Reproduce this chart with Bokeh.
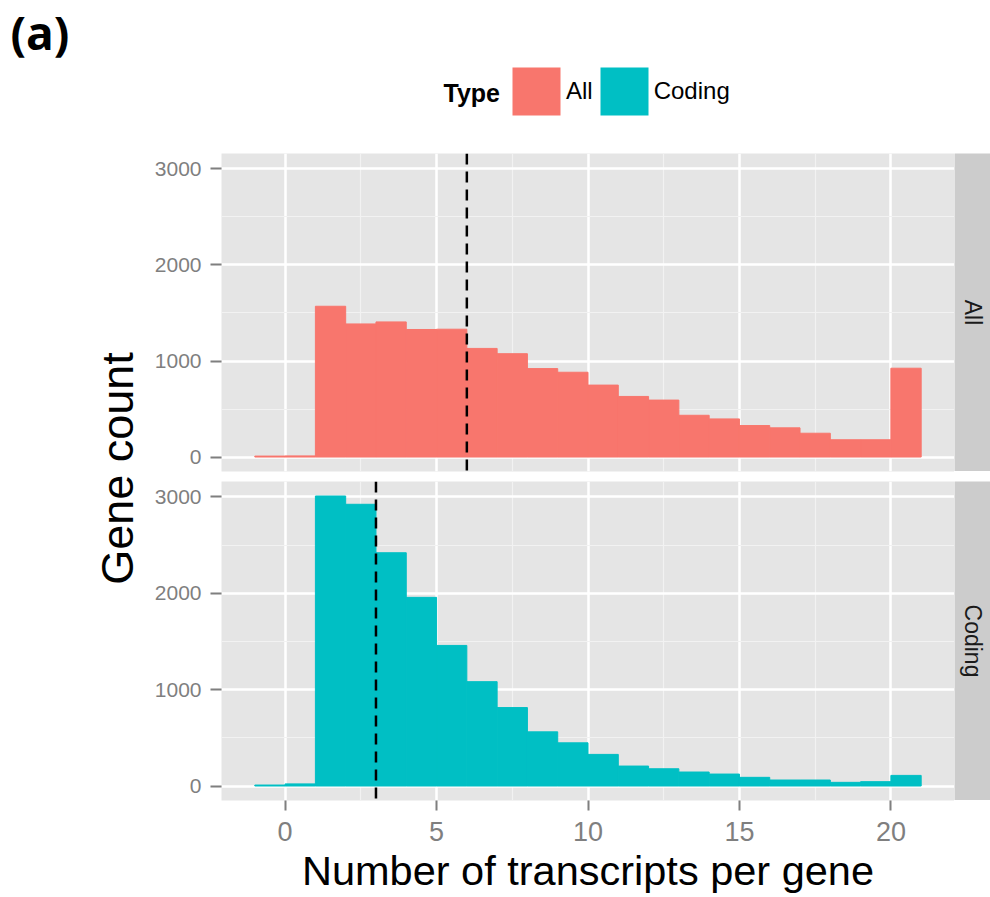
import math

from bokeh.core.properties import value
from bokeh.embed import file_html
from bokeh.layouts import column, row
from bokeh.models import Legend, LegendItem, Range1d, SingleIntervalTicker, Spacer, Span
from bokeh.plotting import figure
from bokeh.resources import INLINE

# ---- data -------------------------------------------------------------
types = ["All", "Coding"]
type_colors = ["#F8766D", "#00BFC4"]

# histogram bins (left edges, width 1)
bin_start = [-1, 0, 1, 2, 3, 4, 5, 6, 7, 8, 9, 10,
             11, 12, 13, 14, 15, 16, 17, 18, 19, 20]
bin_width = 1

all_counts = [10, 12, 1570, 1386, 1407, 1328, 1331, 1131, 1076, 921, 883,
              749, 631, 593, 435, 397, 328, 304, 248, 180, 180, 925]
coding_counts = [10, 22, 3010, 2924, 2421, 1958, 1459, 1083, 814, 562, 448,
                 328, 207, 179, 145, 124, 90, 62, 62, 38, 45, 110]

# median number of transcripts per gene, per panel
medians = [6, 3]

x_tick_step = 5
y_tick_step = 1000

# ---- styling ----------------------------------------------------------
PANEL_BG = "#E5E5E5"
STRIP_BG = "#CCCCCC"
AXIS_GREY = "#7F7F7F"
FONT = "Liberation Sans"

FRAME_W = 733
LEFT_BORDER = 71

# shared scales (ggplot-style 5% expansion)
x_lo = bin_start[0]
x_hi = bin_start[-1] + bin_width
x_pad = 0.05 * (x_hi - x_lo)
y_hi = max(max(all_counts), max(coding_counts))
y_pad = 0.05 * y_hi
x_range = Range1d(x_lo - x_pad, x_hi + x_pad)
y_range = Range1d(-y_pad, y_hi + y_pad)


def blank_fig(width, height, xr, yr):
    f = figure(width=width, height=height, x_range=xr, y_range=yr,
               output_backend="svg", toolbar_location=None, title=None,
               x_axis_type=None, y_axis_type=None, min_border=0)
    f.grid.visible = False
    f.outline_line_color = None
    f.background_fill_color = "white"
    f.border_fill_color = "white"
    return f


def panel(counts, color, median, show_x, frame_h, border_bottom):
    p = figure(frame_width=FRAME_W, frame_height=frame_h,
               x_range=x_range, y_range=y_range,
               output_backend="svg", toolbar_location=None, title=None,
               min_border_left=LEFT_BORDER, min_border_right=0,
               min_border_top=0, min_border_bottom=border_bottom)
    p.background_fill_color = PANEL_BG
    p.border_fill_color = "white"
    p.outline_line_color = None

    xt = SingleIntervalTicker(interval=x_tick_step, num_minor_ticks=2)
    yt = SingleIntervalTicker(interval=y_tick_step, num_minor_ticks=2)
    p.xaxis.ticker = xt
    p.xgrid.ticker = xt
    p.yaxis.ticker = yt
    p.ygrid.ticker = yt

    for g in (p.xgrid, p.ygrid):
        g.grid_line_color = "white"
        g.grid_line_width = 2.5
        g.minor_grid_line_color = "#F2F2F2"
        g.minor_grid_line_width = 1.2
        g.level = "underlay"

    for ax in (p.xaxis, p.yaxis):
        ax.axis_line_color = None
        ax.minor_tick_line_color = None
        ax.major_tick_line_color = AXIS_GREY
        ax.major_tick_line_width = 2
        ax.major_tick_in = 0
        ax.major_label_text_color = AXIS_GREY
        ax.major_label_text_font = FONT

    p.yaxis.major_tick_out = 11
    p.yaxis.major_label_standoff = 9
    p.yaxis.major_label_text_font_size = "21px"

    if show_x:
        p.xaxis.major_tick_out = 10
        p.xaxis.major_label_standoff = 11
        p.xaxis.major_label_text_font_size = "27px"
        p.xaxis.axis_label = "Number of transcripts per gene"
        p.xaxis.axis_label_text_font = FONT
        p.xaxis.axis_label_text_font_size = "41.5px"
        p.xaxis.axis_label_text_font_style = "normal"
        p.xaxis.axis_label_text_color = "black"
        p.xaxis.axis_label_standoff = 3
    else:
        p.xaxis.visible = False

    left = [b for b in bin_start]
    right = [b + bin_width for b in bin_start]
    p.quad(left=left, right=right, bottom=0, top=counts,
           fill_color=color, line_color=color, line_width=1)

    p.add_layout(Span(location=median, dimension="height", line_color="black",
                      line_width=2.5, line_dash="11 7"))
    return p


p_all = panel(all_counts, type_colors[0], medians[0], False, 318, 10)
p_cod = panel(coding_counts, type_colors[1], medians[1], True, 319, 97)

# ---- header: panel tag + legend ----------------------------------------
HDR_H = 153
hdr = blank_fig(990, HDR_H, Range1d(0, 990), Range1d(0, HDR_H))

hdr.text(x=[10], y=[HDR_H - 31], text=["(a)"], text_font=value("Open Sans"),
         text_font_style="bold", text_font_size="46px",
         text_baseline="middle", text_color="black")
hdr.text(x=[443], y=[HDR_H - 92.5], text=["Type"], text_font=value(FONT),
         text_font_style="bold", text_font_size="25px",
         text_baseline="middle", text_color="black")

# zero-size quads that only serve as legend keys
key_renderers = [hdr.quad(left=[0], right=[0], top=[0], bottom=[0],
                          fill_color=c, line_color=None) for c in type_colors]
legend = Legend(
    items=[LegendItem(label=t, renderers=[r]) for t, r in zip(types, key_renderers)],
    location=(506, 32), orientation="horizontal",
    glyph_width=60, glyph_height=60, label_standoff=0, spacing=1,
    padding=0, margin=0, border_line_color=None, background_fill_alpha=0,
    label_text_font=FONT, label_text_font_size="24px", label_text_color="black",
)
hdr.add_layout(legend)

# ---- shared y-axis title ------------------------------------------------
YLAB_H = 744
ylab = blank_fig(150, YLAB_H, Range1d(0, 150), Range1d(0, YLAB_H))
ylab.text(x=[117], y=[YLAB_H - 315], text=["Gene count"], angle=math.pi / 2,
          text_font=value(FONT), text_font_size="45px",
          text_align="center", text_baseline="middle", text_color="black")


# ---- facet strips -------------------------------------------------------
def strip(label, height):
    s = blank_fig(36, height, Range1d(0, 1), Range1d(0, 1))
    s.background_fill_color = STRIP_BG
    s.border_fill_color = STRIP_BG
    s.text(x=[0.5], y=[0.5], text=[label], angle=-math.pi / 2,
           text_font=value(FONT), text_font_size="23px",
           text_align="center", text_baseline="middle", text_color="#1A1A1A")
    return s


strips = column(strip(types[0], 318), Spacer(width=36, height=10),
                strip(types[1], 319), Spacer(width=36, height=97))

layout = column(hdr, row(ylab, column(p_all, p_cod), strips))

with open("out.html", "w") as f:
    f.write(file_html(layout, INLINE))
